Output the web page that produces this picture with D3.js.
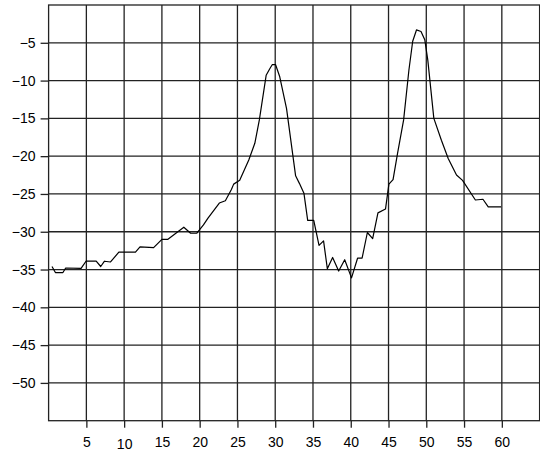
<!DOCTYPE html>
<html>
<head>
<meta charset="utf-8">
<script src="https://cdn.jsdelivr.net/npm/d3@7"></script>
<style>
  html, body { margin: 0; padding: 0; background: #fff; }
  svg { display: block; }
  text { font-family: "Liberation Sans", Arial, Helvetica, sans-serif; }
</style>
</head>
<body>
<svg id="chart" width="540" height="454"></svg>
<script>
// Data
const xValues = [0.45, 0.9, 1.9, 2.26, 4.3, 4.95, 6.3, 6.9, 7.4, 8.2, 9.3, 11.5, 12.1, 13.9, 15.0, 15.8, 17.9, 18.8, 19.6, 20.5,
  21.1, 22.6, 23.4, 24.2, 24.5, 25.3, 26.5, 27.3, 27.9, 28.8, 29.3, 29.6, 30.05, 30.6, 31.5, 32.7, 33.2, 33.8, 34.3, 35.1,
  35.8, 36.4, 36.9, 37.6, 38.4, 39.2, 40.1, 40.9, 41.5, 42.2, 42.9, 43.6, 44.6, 45.05, 45.6, 46.2, 47.0, 47.7, 48.2, 48.7,
  49.3, 49.8, 50.2, 51.0, 52.0, 52.9, 54.0, 54.8, 56.5, 57.5, 58.2, 59.9];
const yValues = [-34.6, -35.4, -35.4, -34.8, -34.85, -33.9, -33.9, -34.6, -33.9, -34.0, -32.7, -32.7, -32.0, -32.1, -31.0, -31.0, -29.4, -30.2, -30.2, -29.1,
  -28.2, -26.2, -25.9, -24.4, -23.7, -23.2, -20.5, -18.3, -15.2, -9.3, -8.4, -7.9, -7.9, -9.5, -13.7, -22.6, -23.6, -24.9, -28.5, -28.5,
  -31.8, -31.2, -34.9, -33.4, -35.2, -33.7, -36.1, -33.5, -33.5, -30.1, -30.9, -27.5, -27.0, -23.7, -23.1, -19.6, -15.2, -8.6, -4.8, -3.3,
  -3.5, -4.6, -7.3, -15.0, -17.9, -20.3, -22.5, -23.2, -25.8, -25.7, -26.7, -26.7];
const xTicks = [5, 10, 15, 20, 25, 30, 35, 40, 45, 50, 55, 60];
const yTicks = [-5, -10, -15, -20, -25, -30, -35, -40, -45, -50];

(function () {
const svg = d3.select("#chart");
const pLeft = 48.6, pRight = 539.6, pTop = 5, pBottom = 420.7;
const x = d3.scaleLinear().domain([0, 65]).range([pLeft, pRight]);
const y = d3.scaleLinear().domain([-55, 0]).range([pBottom, pTop]);
const gridColor = "#222";

// Grid
const grid = svg.append("g");
grid.selectAll("line.v").data(xTicks).join("line").attr("class", "v")
  .attr("x1", d => x(d)).attr("x2", d => x(d)).attr("y1", pTop).attr("y2", pBottom)
  .attr("stroke", gridColor).attr("stroke-width", 1.3);
grid.selectAll("line.h").data(yTicks).join("line").attr("class", "h")
  .attr("x1", pLeft).attr("x2", pRight).attr("y1", d => y(d)).attr("y2", d => y(d))
  .attr("stroke", gridColor).attr("stroke-width", 1.3);

// Frame
svg.append("rect").attr("x", pLeft).attr("y", pTop).attr("width", pRight - pLeft).attr("height", pBottom - pTop)
  .attr("fill", "none").attr("stroke", gridColor).attr("stroke-width", 1.3);

// Axes
const fmt = d => (d < 0 ? "\u2212" + Math.abs(d) : String(d));
const xAxis = svg.append("g").attr("transform", `translate(0,${pBottom})`)
  .call(d3.axisBottom(x).tickValues(xTicks).tickFormat(fmt).tickSize(7).tickPadding(9).tickSizeOuter(0));
const yAxis = svg.append("g").attr("transform", `translate(${pLeft},0)`)
  .call(d3.axisLeft(y).tickValues(yTicks).tickFormat(fmt).tickSize(8).tickPadding(5).tickSizeOuter(0));
[xAxis, yAxis].forEach(g => {
  g.select(".domain").remove();
  g.selectAll(".tick line").attr("stroke", gridColor).attr("stroke-width", 1.3);
  g.selectAll(".tick text").attr("fill", "#000").style("font-size", "14px")
    .style("font-family", "'Liberation Sans', Arial, Helvetica, sans-serif");
});
xAxis.selectAll(".tick text").filter(d => d === 10).attr("dy", "0.86em");

// Line
const pts = xValues.map((v, i) => [v, yValues[i]]);
svg.append("path").datum(pts)
  .attr("d", d3.line().x(d => x(d[0])).y(d => y(d[1])))
  .attr("fill", "none").attr("stroke", "#000").attr("stroke-width", 1.2)
  .attr("stroke-linejoin", "round");
})();
</script>
</body>
</html>
